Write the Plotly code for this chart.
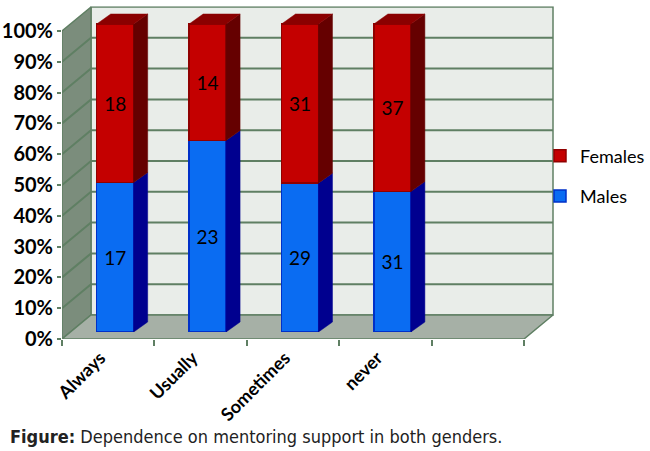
import plotly.graph_objects as go

# data
categories = ["Always", "Usually", "Sometimes", "never"]
males = [17, 23, 29, 31]
females = [18, 14, 31, 37]
y_ticks = [0, 10, 20, 30, 40, 50, 60, 70, 80, 90, 100]

W, H = 650, 451

# front plane (pixels)
x_left_px, slot_px = 62, 92.4
y0_px, y_per = 339, 3.08          # y pixel of 0% and px per 1%
x_range = [-0.5, 4.85]
y_range = [0, 108]
# back wall depth offsets in px
wall_dx, wall_dy = 29, 24
# bar plane offset and bar depth in px
bar_off = 7
bar_dx, bar_dy = 14, 10
y2_range = [0, 106]
bw = 0.4

dxu = wall_dx / slot_px
dyu = wall_dy / y_per
bdx = bar_dx / slot_px
bdy = bar_dy / y_per


def xdom(left_px):
    return [left_px / W, (left_px + (x_range[1] - x_range[0]) * slot_px) / W]


def ydom(zero_px, rng):
    return [1 - zero_px / H, 1 - (zero_px - rng[1] * y_per) / H]


grid_col = "#5f7f63"
fig = go.Figure()

# walls
def poly(xs, ys, fill):
    fig.add_trace(go.Scatter(x=xs + [xs[0]], y=ys + [ys[0]], mode="lines", fill="toself",
                             fillcolor=fill, line=dict(color=grid_col, width=1.5),
                             hoverinfo="skip", showlegend=False, xaxis="x", yaxis="y"))

a, b = x_range[0], 4.5
poly([a + dxu, b + dxu, b + dxu, a + dxu], [dyu, dyu, 100 + dyu, 100 + dyu], "#e9ede9")
poly([a, a + dxu, a + dxu, a], [0, dyu, 100 + dyu, 100], "#7b8d7c")
poly([a, b, b + dxu, a + dxu], [0, 0, dyu, dyu], "#a6b0a6")

# grid lines on side and back wall
gx, gy = [], []
for t in y_ticks[1:-1]:
    gx += [a, a + dxu, b + dxu, None]
    gy += [t, t + dyu, t + dyu, None]
fig.add_trace(go.Scatter(x=gx, y=gy, mode="lines", line=dict(color=grid_col, width=2),
                         hoverinfo="skip", showlegend=False, xaxis="x", yaxis="y"))

# bars
xpos = list(range(len(categories)))
m_pct = [m / (m + f) * 100 for m, f in zip(males, females)]

fig.add_trace(go.Bar(x=xpos, y=males, width=bw, name="Males", legendrank=2, legendgroup="m",
                     marker=dict(color="#0a6cf2", line=dict(color="#0030c8", width=1.5)),
                     text=males, textposition="inside", insidetextanchor="middle",
                     textfont=dict(size=19, color="black", family="Lato"),
                     xaxis="x2", yaxis="y2"))
fig.add_trace(go.Bar(x=xpos, y=females, width=bw, name="Females", legendrank=1, legendgroup="f",
                     marker=dict(color="#c40000", line=dict(color="#900000", width=1.5)),
                     text=females, textposition="inside", insidetextanchor="middle",
                     textfont=dict(size=19, color="black", family="Lato"),
                     xaxis="x2", yaxis="y2"))

# 3d faces of the bars
def faces(segs, color):
    xs, ys = [], []
    for x0, x1, y0, y1, kind in segs:
        if kind == "side":
            xs += [x1, x1 + bdx, x1 + bdx, x1, x1, None]
            ys += [y0, y0 + bdy, y1 + bdy, y1, y0, None]
        else:
            xs += [x0, x0 + bdx, x1 + bdx, x1, x0, None]
            ys += [y1, y1 + bdy, y1 + bdy, y1, y1, None]
    fig.add_trace(go.Scatter(x=xs, y=ys, mode="lines", fill="toself", fillcolor=color,
                             line=dict(color=color, width=0.5), hoverinfo="skip",
                             showlegend=False, xaxis="x2", yaxis="y2"))

faces([(x - bw / 2, x + bw / 2, 0, p, "side") for x, p in zip(xpos, m_pct)], "#00008f")
faces([(x - bw / 2, x + bw / 2, p, 100, "side") for x, p in zip(xpos, m_pct)], "#650000")
faces([(x - bw / 2, x + bw / 2, p, 100, "top") for x, p in zip(xpos, m_pct)], "#8a0000")

fig.update_layout(
    width=W, height=H,
    margin=dict(l=0, r=0, t=0, b=0, autoexpand=False),
    paper_bgcolor="white", plot_bgcolor="rgba(0,0,0,0)",
    barmode="stack", barnorm="percent",
    font=dict(family="Lato", color="black"),
    xaxis=dict(domain=xdom(x_left_px), range=x_range, showgrid=False, zeroline=False,
               showline=False, tickvals=xpos, ticktext=[f"<b>{c}</b>" for c in categories],
               tickangle=-45, ticks="", ticklabelshift=-8, ticklabelstandoff=4,
               automargin=False,
               tickfont=dict(size=18, family="Lato", color="black"),
               minor=dict(tickvals=[i - 0.5 for i in range(6)], ticks="outside",
                          ticklen=6, tickcolor=grid_col, tickwidth=1.5)),
    yaxis=dict(domain=ydom(y0_px, y_range), range=y_range, showgrid=False, zeroline=False,
               showline=False, tickvals=y_ticks, ticktext=[f"<b>{t}%</b>" for t in y_ticks],
               ticks="outside", ticklen=4, tickcolor=grid_col, tickwidth=1.5,
               automargin=False,
               tickfont=dict(size=20, family="Lato", color="black")),
    xaxis2=dict(domain=xdom(x_left_px + bar_off), range=x_range, visible=False,
                anchor="y2"),
    yaxis2=dict(domain=ydom(y0_px - bar_off, y2_range), range=y2_range, visible=False,
                anchor="x2"),
    legend=dict(x=540 / W, y=1 - 176 / H, xanchor="left", yanchor="middle",
                traceorder="grouped", tracegroupgap=14, itemwidth=30,
                font=dict(size=18, family="Lato", color="black"), bgcolor="rgba(0,0,0,0)"),
    showlegend=True,
)

fig.add_annotation(x=8 / W, y=1 - 436 / H, xref="paper", yref="paper", xanchor="left",
                   yanchor="middle", showarrow=False,
                   text="<b>Figure:</b> Dependence on mentoring support in both genders.",
                   font=dict(size=18, family="DejaVu Sans Condensed", color="#222222"))

fig.write_html("out.html", config={"displayModeBar": False},
               post_script="document.body.style.margin='0';")
